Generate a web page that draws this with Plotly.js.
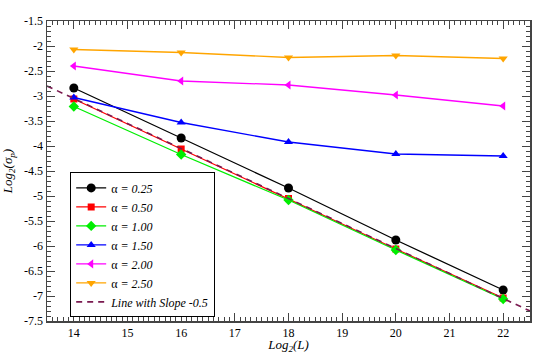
<!DOCTYPE html>
<html>
<head>
<meta charset="utf-8">
<script src="https://cdn.plot.ly/plotly-3.0.1.min.js"></script>
<style>
  html, body { margin: 0; padding: 0; background: #fff; }
  #plot { width: 545px; height: 354px; }
</style>
</head>
<body>
<div id="plot"></div>
<script>
// Data
const sizes = [14, 16, 18, 20, 22];
const alpha025 = [-2.84, -3.84, -4.84, -5.88, -6.88];
const alpha050 = [-3.06, -4.06, -5.05, -6.06, -7.04];
const alpha100 = [-3.21, -4.17, -5.08, -6.08, -7.06];
const alpha150 = [-3.03, -3.53, -3.92, -4.16, -4.20];
const alpha200 = [-2.40, -2.70, -2.78, -2.98, -3.20];
const alpha250 = [-2.07, -2.13, -2.23, -2.19, -2.25];
const slopeX = [13.5, 22.5];
const slopeY = [-2.8, -7.3];

const xTicks = [14, 15, 16, 17, 18, 19, 20, 21, 22];
const xTickText = ['14', '15', '16', '17', '18', '19', '20', '21', '22'];
const yTicks = [-1.5, -2, -2.5, -3, -3.5, -4, -4.5, -5, -5.5, -6, -6.5, -7, -7.5];
const yTickText = ['-1.5', '-2', '-2.5', '-3', '-3.5', '-4', '-4.5', '-5', '-5.5', '-6', '-6.5', '-7', '-7.5'];

const SERIES = [
    { name: '0.25', y: alpha025, color: '#000000', symbol: 'circle', size: 9 },
    { name: '0.50', y: alpha050, color: '#ff0000', symbol: 'square', size: 7 },
    { name: '1.00', y: alpha100, color: '#00ee00', symbol: 'diamond', size: 8 },
    { name: '1.50', y: alpha150, color: '#0000ff', symbol: 'triangle-up', size: 8 },
    { name: '2.00', y: alpha200, color: '#ff00ff', symbol: 'triangle-left', size: 8 },
    { name: '2.50', y: alpha250, color: '#ffa500', symbol: 'triangle-down', size: 8 }
];

const traces = SERIES.map(s => ({
    x: sizes,
    y: s.y,
    mode: 'lines+markers',
    name: 'α<i> = ' + s.name + '</i>',
    line: { color: s.color, width: 1.3 },
    marker: { color: s.color, symbol: s.symbol, size: s.size }
}));

traces.push({
    x: slopeX,
    y: slopeY,
    mode: 'lines',
    name: '<i>Line with Slope -0.5</i>',
    line: { color: '#7a1a50', width: 1.6, dash: '6px,5px' }
});

const serif = '"Liberation Serif", "Times New Roman", Times, serif';

const axisBase = {
    showline: true,
    linecolor: '#444',
    linewidth: 1.5,
    mirror: 'ticks',
    ticks: 'inside',
    ticklen: 8,
    tickcolor: '#444',
    showgrid: false,
    zeroline: false,
    tickmode: 'array',
    tickfont: { family: serif, size: 12, color: '#000' },
    minor: { dtick: 0.1, ticks: 'inside', ticklen: 4, tickcolor: '#444', showgrid: false }
};

const layout = {
    width: 545,
    height: 354,
    paper_bgcolor: '#fff',
    plot_bgcolor: '#fff',
    margin: { l: 47, r: 15, t: 21, b: 33 },
    showlegend: true,
    xaxis: Object.assign({}, axisBase, {
        range: [13.5, 22.5],
        tickvals: xTicks,
        ticktext: xTickText,
        title: { text: '<i>Log<sub>2</sub>(L)</i>', font: { family: serif, size: 13, color: '#000' }, standoff: 4 }
    }),
    yaxis: Object.assign({}, axisBase, {
        range: [-7.5, -1.5],
        tickvals: yTicks,
        ticktext: yTickText,
        title: { text: '<i>Log<sub>2</sub>(σ<sub>p</sub>)</i>', font: { family: serif, size: 13, color: '#000' }, standoff: 8 }
    }),
    legend: {
        x: 0.048,
        y: 0.012,
        xanchor: 'left',
        yanchor: 'bottom',
        bgcolor: '#fff',
        bordercolor: '#000',
        borderwidth: 1,
        font: { family: serif, size: 12, color: '#000' },
        tracegroupgap: 0,
        itemwidth: 30
    }
};

Plotly.newPlot('plot', traces, layout, { displayModeBar: false, staticPlot: true });
</script>
</body>
</html>
